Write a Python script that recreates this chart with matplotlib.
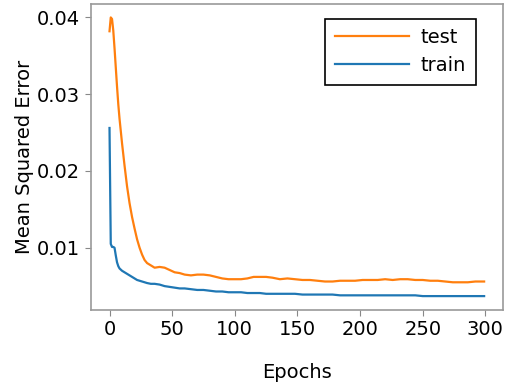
import matplotlib
matplotlib.use("Agg")
import matplotlib.pyplot as plt

epochs = [0, 1, 2, 3, 4, 5, 6, 7, 8, 10, 12, 14, 16, 18, 20, 22, 24, 26, 28, 30,
          33, 36, 40, 44, 48, 52, 56, 60, 65, 70, 75, 80, 85, 90, 95, 100, 105,
          110, 115, 120, 125, 130, 136, 142, 148, 154, 160, 166, 172, 178, 184,
          190, 196, 202, 208, 214, 220, 226, 232, 238, 244, 250, 256, 262, 268,
          274, 280, 286, 292, 299]

test_mse = [0.0382, 0.0400, 0.0398, 0.0383, 0.0360, 0.0335, 0.0310, 0.0287, 0.0268,
            0.0236, 0.0207, 0.0180, 0.0158, 0.0140, 0.0125, 0.0111, 0.0100, 0.0091,
            0.0084, 0.0080, 0.0077, 0.0074, 0.0075, 0.0074, 0.0071, 0.0068, 0.0067,
            0.0065, 0.0064, 0.0065, 0.0065, 0.0064, 0.0062, 0.0060, 0.0059, 0.0059,
            0.0059, 0.0060, 0.0062, 0.0062, 0.0062, 0.0061, 0.0059, 0.0060, 0.0059,
            0.0058, 0.0058, 0.0057, 0.0056, 0.0056, 0.0057, 0.0057, 0.0057, 0.0058,
            0.0058, 0.0058, 0.0059, 0.0058, 0.0059, 0.0059, 0.0058, 0.0058, 0.0057,
            0.0057, 0.0056, 0.0055, 0.0055, 0.0055, 0.0056, 0.0056]

train_mse = [0.0256, 0.0105, 0.0101, 0.0101, 0.0100, 0.0090, 0.0081, 0.0076, 0.0073,
             0.0070, 0.0068, 0.0066, 0.0064, 0.0062, 0.0060, 0.0058, 0.0057, 0.0056,
             0.0055, 0.0054, 0.0053, 0.0053, 0.0052, 0.0050, 0.0049, 0.0048, 0.0047,
             0.0047, 0.0046, 0.0045, 0.0045, 0.0044, 0.0043, 0.0043, 0.0042, 0.0042,
             0.0042, 0.0041, 0.0041, 0.0041, 0.0040, 0.0040, 0.0040, 0.0040, 0.0040,
             0.0039, 0.0039, 0.0039, 0.0039, 0.0039, 0.0038, 0.0038, 0.0038, 0.0038,
             0.0038, 0.0038, 0.0038, 0.0038, 0.0038, 0.0038, 0.0038, 0.0037, 0.0037,
             0.0037, 0.0037, 0.0037, 0.0037, 0.0037, 0.0037, 0.0037]

x_ticks = [0, 50, 100, 150, 200, 250, 300]
y_ticks = [0.01, 0.02, 0.03, 0.04]

fig = plt.figure(figsize=(5.1, 3.89), dpi=100)
ax = fig.add_axes([0.178, 0.203, 0.808, 0.788])

ax.plot(epochs, test_mse, color="#ff7f0e", lw=1.6, label="test")
ax.plot(epochs, train_mse, color="#1f77b4", lw=1.6, label="train")

ax.set_xticks(x_ticks)
ax.set_yticks(y_ticks)
ax.set_yticklabels([f"{v:.2f}" for v in y_ticks])
ax.tick_params(labelsize=14, color="#888888", length=4)
for s in ax.spines.values():
    s.set_color("#999999")
    s.set_linewidth(1.2)

ax.set_xlabel("Epochs", fontsize=14, labelpad=17)
ax.set_ylabel("Mean Squared Error", fontsize=14, labelpad=2)

leg = ax.legend(loc="upper right", bbox_to_anchor=(0.934, 0.951), borderaxespad=0,
                fontsize=14, fancybox=False, edgecolor="black", framealpha=1,
                handlelength=3.8, handletextpad=0.6, labelspacing=0.45,
                borderpad=0.5)
leg.get_frame().set_linewidth(1.2)

fig.savefig("out.png", dpi=100)
